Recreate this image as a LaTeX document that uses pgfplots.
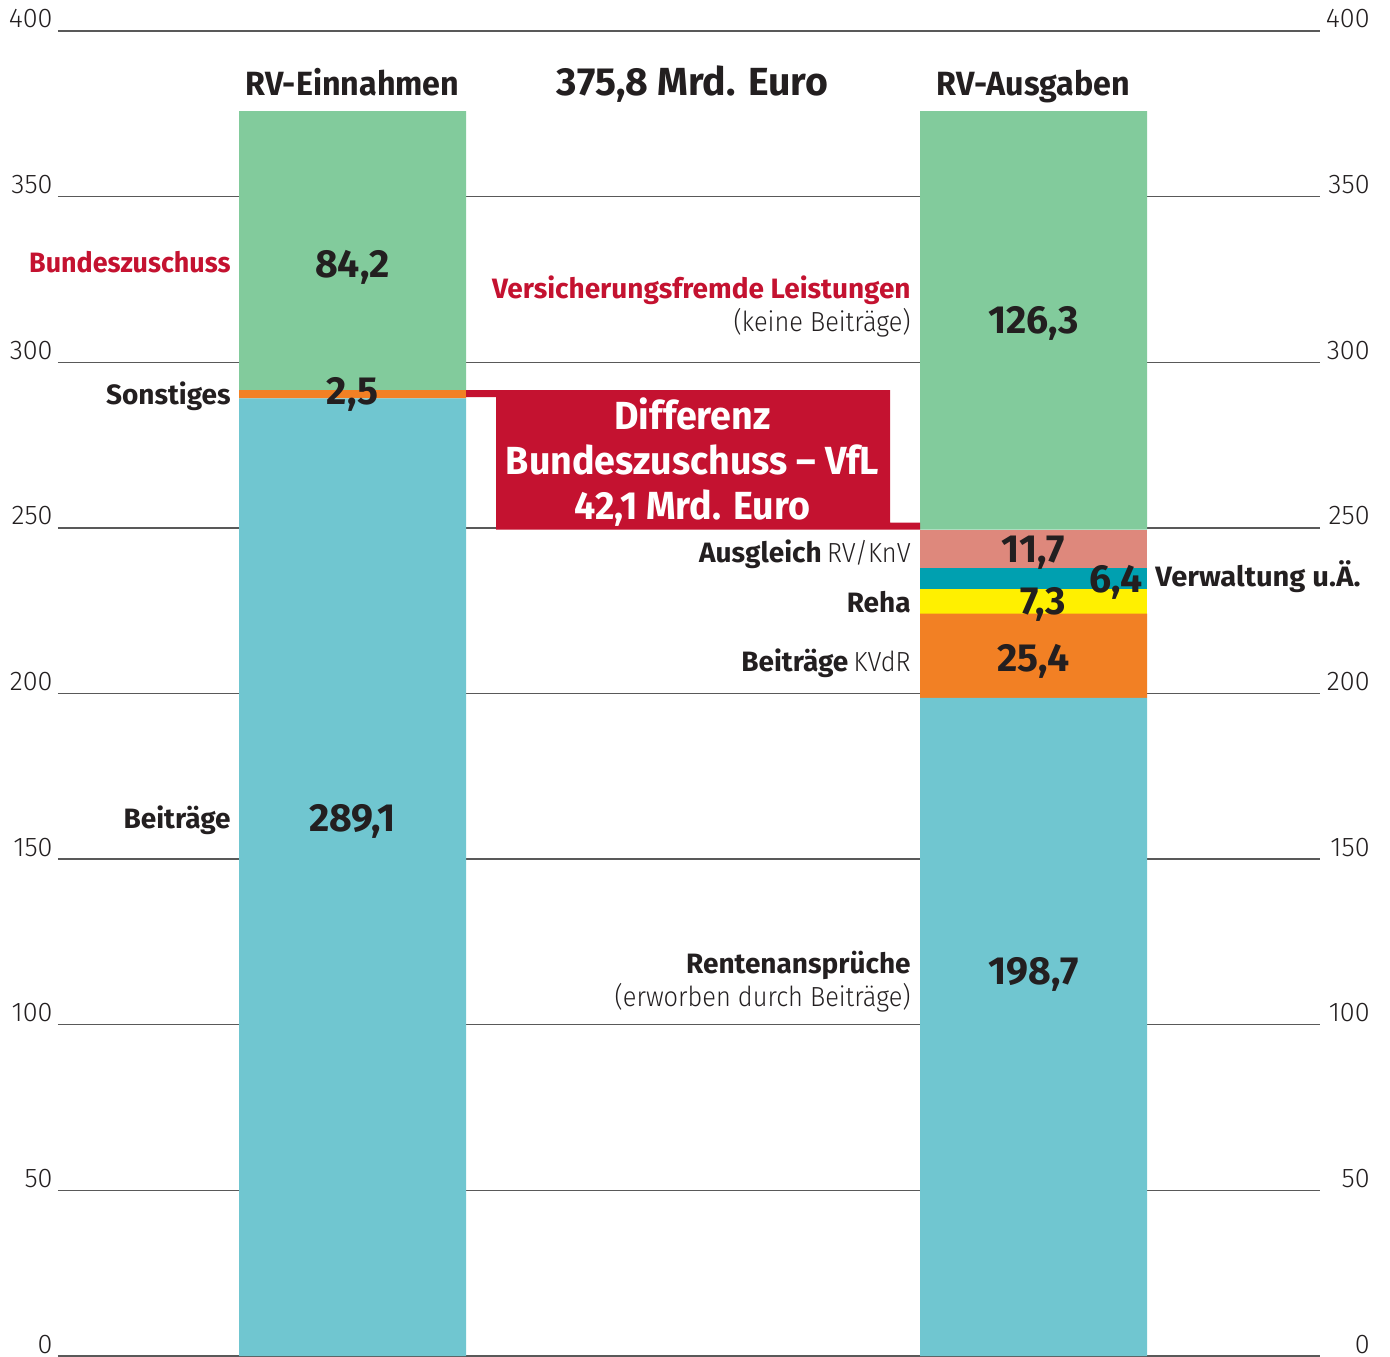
\documentclass[border=0pt]{standalone}
\usepackage{pgfplots}
\pgfplotsset{compat=1.18}
\usepackage{fontspec}
\setmainfont{Fira Sans}
\newfontfamily\lightfont{Fira Sans Light}[FakeStretch=0.92]
\newfontfamily\ticklightfont{Fira Sans Light}
\newfontfamily\narrowfont{Fira Sans}[FakeStretch=0.96]
\newfontfamily\wideboldfont{Fira Sans}[FakeStretch=1.04]
\definecolor{cteal}{HTML}{70C6D0}
\definecolor{cgreen}{HTML}{82CB9C}
\definecolor{corange}{HTML}{F28024}
\definecolor{cyellow}{HTML}{FFF000}
\definecolor{cdteal}{HTML}{00A0B0}
\definecolor{csalmon}{HTML}{DE887C}
\definecolor{cred}{HTML}{C41230}
\definecolor{tdark}{HTML}{231F20}
\newcommand{\fsTick}{\fontsize{13.5}{16}\selectfont\ticklightfont}
\newcommand{\fsLab}{\fontsize{14}{17}\selectfont}
\newcommand{\fsLight}{\fontsize{13.8}{17}\selectfont\lightfont}
\newcommand{\fsHead}{\fontsize{16.8}{20}\selectfont\narrowfont\bfseries}
\newcommand{\fsNum}{\fontsize{19.6}{23}\selectfont\bfseries}
\newcommand{\fsBox}{\fontsize{19.6}{23}\selectfont\narrowfont\bfseries}
\begin{document}
\begin{tikzpicture}
\pgfplotsset{
  common/.style={
    x=0.5pt, y=1.65625pt, xmin=58, xmax=1320, ymin=0, ymax=400,
    enlargelimits=false, clip=false,
    axis line style={draw=none}, xtick=\empty,
    ytick={0,50,...,400}, major tick length=0pt,
    tick style={draw=none},
    /pgf/number format/assume math mode=true,
  }
}
\begin{axis}[common, name=main,
  ymajorgrids, grid style={line width=0.7pt, color=black!65},
  yticklabel style={anchor=base east, inner sep=0pt, xshift=-2.5pt, yshift=1.5pt, font=\fsTick, text=tdark},
  ybar stacked, bar width=113.5pt,
  every axis plot/.append style={draw=none},
]
\addplot[fill=cteal]   coordinates {(352.5,289.1) (1033.5,198.7)};
\addplot[fill=corange] coordinates {(352.5,2.5) (1033.5,25.4)};
\addplot[fill=cyellow] coordinates {(352.5,0) (1033.5,7.3)};
\addplot[fill=cdteal]  coordinates {(352.5,0) (1033.5,6.4)};
\addplot[fill=csalmon] coordinates {(352.5,0) (1033.5,11.7)};
\addplot[fill=cgreen]  coordinates {(352.5,84.2) (1033.5,126.3)};
\end{axis}
\begin{axis}[common, at={(main.south west)}, anchor=south west,
  yticklabel pos=right,
  yticklabel style={anchor=base east, inner sep=0pt, xshift=25pt, yshift=1.5pt, font=\fsTick, text=tdark},
]
\addplot[fill=cred, draw=none] coordinates {(466,291.6) (890,291.6) (890,251.6) (920,251.6) (920,249.5) (496,249.5) (496,289.5) (466,289.5)} -- cycle;
% headers
\node[anchor=base, font=\fsHead, text=tdark] at (axis cs:352.5,380.4) {RV-Einnahmen};
\node[anchor=base, font=\fsNum, text=tdark] at (axis cs:692.5,380.4) {375,8 Mrd. Euro};
\node[anchor=base, font=\fsHead, text=tdark] at (axis cs:1033.5,380.4) {RV-Ausgaben};
% left labels
\node[anchor=base east, inner sep=0pt, font=\fsLab\narrowfont\bfseries, text=cred] at (axis cs:231,327.2) {Bundeszuschuss};
\node[anchor=base east, inner sep=0pt, font=\fsLab\bfseries, text=tdark] at (axis cs:231,287.1) {Sonstiges};
\node[anchor=base east, inner sep=0pt, font=\fsLab\bfseries, text=tdark] at (axis cs:231,159.1) {Beiträge};
% left values
\node[anchor=base, font=\fsNum, text=tdark] at (axis cs:352.5,325.7) {84,2};
\node[anchor=base, font=\fsNum, text=tdark] at (axis cs:352.5,287.1) {2,5};
\node[anchor=base, font=\fsNum, text=tdark] at (axis cs:352.5,158.2) {289,1};
% red box text
\node[anchor=base, font=\fsBox, text=white] at (axis cs:692.5,279.8) {Differenz};
\node[anchor=base, font=\fsBox, text=white] at (axis cs:692.5,266.0) {Bundeszuschuss – VfL};
\node[anchor=base, font=\fsBox, text=white] at (axis cs:692.5,252.4) {42,1 Mrd. Euro};
% middle labels
\node[anchor=base east, inner sep=0pt, font=\fsLab\bfseries, text=cred] at (axis cs:911,319.1) {Versicherungsfremde Leistungen};
\node[anchor=base east, inner sep=0pt, font=\fsLight, text=tdark] at (axis cs:911,309.4) {(keine Beiträge)};
\node[anchor=base east, inner sep=0pt, text=tdark] at (axis cs:911,239.4) {{\fsLab\bfseries Ausgleich} {\fsLight RV/KnV}};
\node[anchor=base east, inner sep=0pt, font=\fsLab\bfseries, text=tdark] at (axis cs:911,224.6) {Reha};
\node[anchor=base east, inner sep=0pt, text=tdark] at (axis cs:911,206.5) {{\fsLab\bfseries Beiträge} {\fsLight KVdR}};
\node[anchor=base east, inner sep=0pt, font=\fsLab\bfseries, text=tdark] at (axis cs:911,115.6) {Rentenansprüche};
\node[anchor=base east, inner sep=0pt, font=\fsLight, text=tdark] at (axis cs:911,105.4) {(erworben durch Beiträge)};
\node[anchor=base west, inner sep=0pt, font=\fsLab\wideboldfont\bfseries, text=tdark] at (axis cs:1155,232.2) {Verwaltung u.Ä.};
% right values
\node[anchor=base, font=\fsNum, text=tdark] at (axis cs:1033.5,308.8) {126,3};
\node[anchor=base, font=\fsNum, text=tdark] at (axis cs:1033.5,239.4) {11,7};
\node[anchor=base, font=\fsNum, text=tdark] at (axis cs:1116,230.6) {6,4};
\node[anchor=base, font=\fsNum, text=tdark] at (axis cs:1043,223.7) {7,3};
\node[anchor=base, font=\fsNum, text=tdark] at (axis cs:1033.5,206.5) {25,4};
\node[anchor=base, font=\fsNum, text=tdark] at (axis cs:1033.5,112.3) {198,7};
\end{axis}
\pgfresetboundingbox
\path[use as bounding box] (main.south west) ++(-29pt,0pt) rectangle ++(695pt,678pt);
\end{tikzpicture}
\end{document}
